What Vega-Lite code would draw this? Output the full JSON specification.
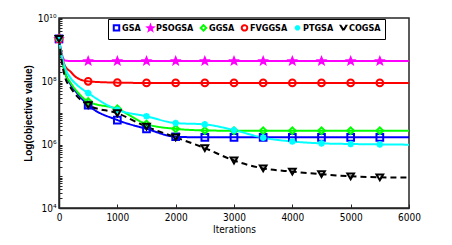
{
  "$schema": "https://vega.github.io/schema/vega-lite/v6.json",
  "autosize": "none",
  "width": 350,
  "height": 190,
  "padding": {"left": 59, "top": 18, "right": 43, "bottom": 37},
  "background": "white",
  "data": {"values": [
    {"it": 0, "GSA": 2.19e9, "PSOGSA": 2.19e9, "GGSA": 2.19e9, "FVGGSA": 2.19e9, "PTGSA": 2.19e9, "COGSA": 2.19e9},
    {"it": 50, "GSA": 5.0e8, "PSOGSA": 7.08e8, "GGSA": 5.0e8, "FVGGSA": 6.3e8, "PTGSA": 6.3e8, "COGSA": 3.98e8},
    {"it": 100, "GSA": 2.0e8, "PSOGSA": 4.57e8, "GGSA": 2.0e8, "FVGGSA": 3.16e8, "PTGSA": 2.82e8, "COGSA": 1.41e8},
    {"it": 200, "GSA": 7.94e7, "PSOGSA": 4.37e8, "GGSA": 8.9e7, "FVGGSA": 2.0e8, "PTGSA": 1.26e8, "COGSA": 6.3e7},
    {"it": 300, "GSA": 4.47e7, "PSOGSA": 4.37e8, "GGSA": 5.0e7, "FVGGSA": 1.32e8, "PTGSA": 7.94e7, "COGSA": 3.55e7},
    {"it": 500, "GSA": 1.78e7, "PSOGSA": 4.37e8, "GGSA": 2.29e7, "FVGGSA": 1.0e8, "PTGSA": 4.27e7, "COGSA": 1.78e7},
    {"it": 1000, "GSA": 6.0e6, "PSOGSA": 4.37e8, "GGSA": 1.35e7, "FVGGSA": 9.1e7, "PTGSA": 1.26e7, "COGSA": 9.8e6},
    {"it": 1500, "GSA": 3.16e6, "PSOGSA": 4.37e8, "GGSA": 4.47e6, "FVGGSA": 8.9e7, "PTGSA": 7.9e6, "COGSA": 3.7e6},
    {"it": 2000, "GSA": 1.78e6, "PSOGSA": 4.37e8, "GGSA": 3.16e6, "FVGGSA": 8.9e7, "PTGSA": 4.8e6, "COGSA": 1.7e6},
    {"it": 2500, "GSA": 1.7e6, "PSOGSA": 4.37e8, "GGSA": 2.82e6, "FVGGSA": 8.9e7, "PTGSA": 4.37e6, "COGSA": 7.8e5},
    {"it": 3000, "GSA": 1.7e6, "PSOGSA": 4.37e8, "GGSA": 2.75e6, "FVGGSA": 8.9e7, "PTGSA": 2.88e6, "COGSA": 3.16e5},
    {"it": 3500, "GSA": 1.7e6, "PSOGSA": 4.37e8, "GGSA": 2.75e6, "FVGGSA": 8.9e7, "PTGSA": 1.66e6, "COGSA": 1.78e5},
    {"it": 4000, "GSA": 1.7e6, "PSOGSA": 4.37e8, "GGSA": 2.75e6, "FVGGSA": 8.9e7, "PTGSA": 1.26e6, "COGSA": 1.41e5},
    {"it": 4500, "GSA": 1.7e6, "PSOGSA": 4.37e8, "GGSA": 2.75e6, "FVGGSA": 8.9e7, "PTGSA": 1.1e6, "COGSA": 1.17e5},
    {"it": 5000, "GSA": 1.7e6, "PSOGSA": 4.37e8, "GGSA": 2.75e6, "FVGGSA": 8.9e7, "PTGSA": 1.05e6, "COGSA": 1.0e5},
    {"it": 5500, "GSA": 1.7e6, "PSOGSA": 4.37e8, "GGSA": 2.75e6, "FVGGSA": 8.9e7, "PTGSA": 1.02e6, "COGSA": 9.3e4},
    {"it": 6000, "GSA": 1.7e6, "PSOGSA": 4.37e8, "GGSA": 2.75e6, "FVGGSA": 8.9e7, "PTGSA": 1.0e6, "COGSA": 9.1e4}
  ]},
  "transform": [
    {"fold": ["GSA", "PSOGSA", "GGSA", "FVGGSA", "PTGSA", "COGSA"], "as": ["alg", "v"]}
  ],
  "encoding": {
    "x": {
      "field": "it", "type": "quantitative",
      "scale": {"domain": [0, 6000], "nice": false},
      "axis": {"title": "Iterations", "values": [0, 1000, 2000, 3000, 4000, 5000, 6000], "format": "d", "grid": false, "tickSize": -4, "labelPadding": 8, "titlePadding": 2}
    },
    "y": {
      "field": "v", "type": "quantitative",
      "scale": {"type": "log", "domain": [10000, 10000000000], "nice": false},
      "axis": {
        "title": "Log(objective value)",
        "grid": false,
        "tickSize": -3,
        "labelPadding": 6,
        "titlePadding": 4,
        "titleFont": "Liberation Sans",
        "titleFontWeight": "bold",
        "titleFontSize": 10,
        "values": [10000, 20000, 30000, 40000, 50000, 60000, 70000, 80000, 90000, 100000, 200000, 300000, 400000, 500000, 600000, 700000, 800000, 900000, 1000000, 2000000, 3000000, 4000000, 5000000, 6000000, 7000000, 8000000, 9000000, 10000000, 20000000, 30000000, 40000000, 50000000, 60000000, 70000000, 80000000, 90000000, 100000000, 200000000, 300000000, 400000000, 500000000, 600000000, 700000000, 800000000, 900000000, 1000000000, 2000000000, 3000000000, 4000000000, 5000000000, 6000000000, 7000000000, 8000000000, 9000000000, 10000000000],
        "labelExpr": "datum.value == 10000 ? '10⁴' : datum.value == 1000000 ? '10⁶' : datum.value == 100000000 ? '10⁸' : datum.value == 10000000000 ? '10¹⁰' : ''"
      }
    },
    "color": {
      "field": "alg", "type": "nominal",
      "scale": {"domain": ["GSA", "PSOGSA", "GGSA", "FVGGSA", "PTGSA", "COGSA"], "range": ["#0000FF", "#FF00FF", "#00FF00", "#FF0000", "#00FFFF", "#000000"]},
      "legend": {
        "title": null,
        "orient": "none",
        "legendX": 49,
        "legendY": 1,
        "direction": "horizontal",
        "columns": 6,
        "strokeColor": "#000000",
        "fillColor": "white",
        "padding": 4,
        "columnPadding": 2,
        "symbolSize": 30,
        "symbolStrokeWidth": 2,
        "labelFont": "Liberation Sans Narrow, DejaVu Sans Condensed, Liberation Sans",
        "labelFontWeight": "bold",
        "labelFontSize": 9,
        "labelOffset": 1
      }
    }
  },
  "layer": [
    {
      "mark": {"type": "line", "strokeWidth": 2, "interpolate": "monotone"},
      "encoding": {
        "strokeDash": {"field": "alg", "type": "nominal", "legend": null, "scale": {"domain": ["GSA", "PSOGSA", "GGSA", "FVGGSA", "PTGSA", "COGSA"], "range": [[1, 0], [1, 0], [1, 0], [1, 0], [1, 0], [6, 4]]}}
      }
    },
    {
      "transform": [{"filter": "datum.it % 500 == 0 && datum.it < 6000"}],
      "mark": {"type": "point", "filled": false, "strokeWidth": 2, "size": 45, "opacity": 1},
      "encoding": {
        "shape": {
          "field": "alg", "type": "nominal",
          "scale": {"domain": ["GSA", "PSOGSA", "GGSA", "FVGGSA", "PTGSA", "COGSA"], "range": ["square", "M0,-1L0.25,-0.35L0.95,-0.31L0.4,0.12L0.59,0.81L0,0.42L-0.59,0.81L-0.4,0.12L-0.95,-0.31L-0.25,-0.35Z", "diamond", "circle", "M-1,0L1,0M0,-1L0,1M-0.7,-0.7L0.7,0.7M-0.7,0.7L0.7,-0.7", "triangle-down"]},
          "legend": {
            "title": null,
            "orient": "none",
            "legendX": 49,
            "legendY": 1,
            "direction": "horizontal",
            "columns": 6,
            "strokeColor": "#000000",
            "fillColor": "white",
            "padding": 4,
            "columnPadding": 2,
            "symbolSize": 30,
            "symbolStrokeWidth": 2,
            "labelFont": "Liberation Sans Narrow, DejaVu Sans Condensed, Liberation Sans",
            "labelFontWeight": "bold",
            "labelFontSize": 9,
            "labelOffset": 1
          }
        }
      }
    }
  ],
  "config": {
    "view": {"stroke": "#262626", "strokeWidth": 1.5},
    "axis": {
      "domainColor": "#262626",
      "domainWidth": 1.5,
      "tickColor": "#262626",
      "labelColor": "#000000",
      "titleColor": "#000000",
      "labelFont": "Liberation Sans Narrow, DejaVu Sans Condensed, Liberation Sans",
      "labelFontSize": 10,
      "titleFont": "Liberation Sans Narrow, DejaVu Sans Condensed, Liberation Sans",
      "titleFontSize": 10,
      "titleFontWeight": "normal",
      "labelFlush": false
    }
  }
}
